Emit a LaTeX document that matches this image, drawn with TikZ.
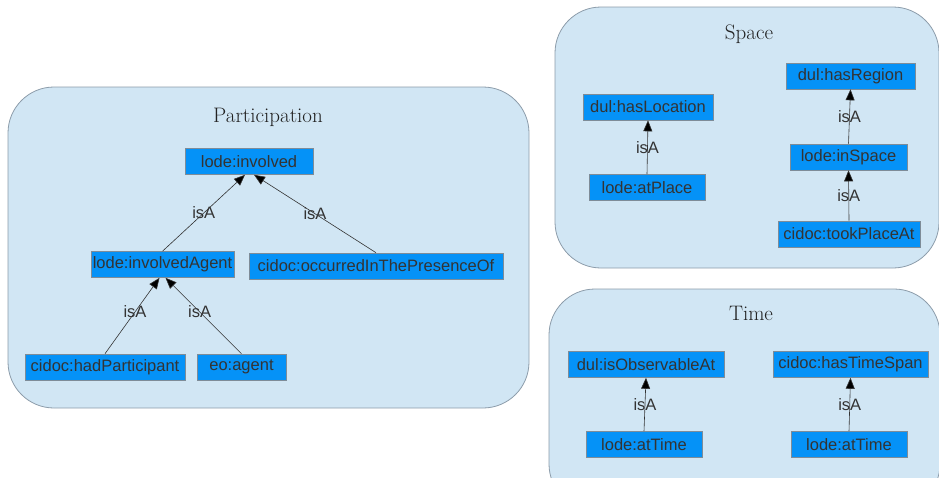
\documentclass[tikz,border=0pt]{standalone}
\usepackage{fontspec}
\newfontfamily\nodefont{Liberation Sans}
\usetikzlibrary{arrows.meta}
\definecolor{groupfill}{HTML}{D1E6F4}
\definecolor{groupdraw}{HTML}{8C9CAA}
\definecolor{boxfill}{HTML}{0592F7}
\definecolor{boxdraw}{HTML}{7E8C98}
\definecolor{txt}{HTML}{333333}
\definecolor{titletxt}{HTML}{222222}
\definecolor{edge}{HTML}{333333}
\tikzset{
  group/.style={draw=groupdraw, fill=groupfill, rounded corners=46pt, line width=0.8pt},
  grouptitle/.style={text=titletxt, font=\fontsize{21}{24}\selectfont},
  cls/.style={draw=boxdraw, fill=boxfill, text=txt, font=\nodefont\fontsize{16.5}{19}\selectfont,
     minimum height=26pt, inner sep=0pt, line width=0.6pt},
  isa/.style={draw=edge, line width=0.6pt, -{Triangle[length=11pt,width=9pt,fill=black]}},
  isalabel/.style={text=txt, font=\nodefont\fontsize{16.5}{19}\selectfont, inner sep=0pt},
}
\begin{document}
\begin{tikzpicture}[x=1pt,y=-1pt]
\useasboundingbox (0,0) rectangle (939,477);
\begin{scope}
\clip (0,0) rectangle (939,477);
% group boxes
\draw[group] (8,87) rectangle (529,408);
\draw[group] (555,7) rectangle (939,268);
\draw[group] (549,289) rectangle (940,510);
\end{scope}
\node[grouptitle] (tpart) at (268,117) {Participation};
\node[grouptitle] (tspace) at (749,34) {Space};
\node[grouptitle] (ttime) at (751,313) {Time};

% Participation
\node[cls, minimum width=128pt] (inv) at (249,161.5) {lode:involved};
\node[cls, minimum width=143pt] (invag) at (162.5,264.5) {lode:involvedAgent};
\node[cls, minimum width=254pt] (occ) at (376,266) {cidoc:occurredInThePresenceOf};
\node[cls, minimum width=160pt] (hadp) at (105,367) {cidoc:hadParticipant};
\node[cls, minimum width=89pt] (eoag) at (241.5,367) {eo:agent};

\draw[isa] (invag.north) -- node[isalabel, pos=0.5] {isA} ([xshift=-4pt]inv.south);
\draw[isa] (occ.north) -- node[isalabel, pos=0.5] {isA} ([xshift=5pt]inv.south);
\draw[isa] (hadp.north) -- node[isalabel, pos=0.55] {isA} ([xshift=-3pt]invag.south);
\draw[isa] (eoag.north) -- node[isalabel, pos=0.55] {isA} ([xshift=3pt]invag.south);

% Space
\node[cls, minimum width=130pt] (hasloc) at (648,107) {dul:hasLocation};
\node[cls, minimum width=116pt] (atplace) at (647,187.5) {lode:atPlace};
\node[cls, minimum width=129pt] (hasreg) at (850.5,76) {dul:hasRegion};
\node[cls, minimum width=117pt] (inspace) at (848.5,157) {lode:inSpace};
\node[cls, minimum width=142pt] (tookpl) at (849,234) {cidoc:tookPlaceAt};

\draw[isa] (atplace.north) -- node[isalabel] {isA} (hasloc.south);
\draw[isa] (inspace.north) -- node[isalabel] {isA} (hasreg.south);
\draw[isa] (tookpl.north) -- node[isalabel] {isA} (inspace.south);

% Time
\node[cls, minimum width=156pt] (isobs) at (646,364.5) {dul:isObservableAt};
\node[cls, minimum width=155pt] (hasts) at (850.5,364.5) {cidoc:hasTimeSpan};
\node[cls, minimum width=116pt] (attime1) at (644,444.5) {lode:atTime};
\node[cls, minimum width=116pt] (attime2) at (849,444.5) {lode:atTime};

\draw[isa] (attime1.north) -- node[isalabel] {isA} (isobs.south);
\draw[isa] (attime2.north) -- node[isalabel] {isA} (hasts.south);
\end{tikzpicture}
\end{document}
